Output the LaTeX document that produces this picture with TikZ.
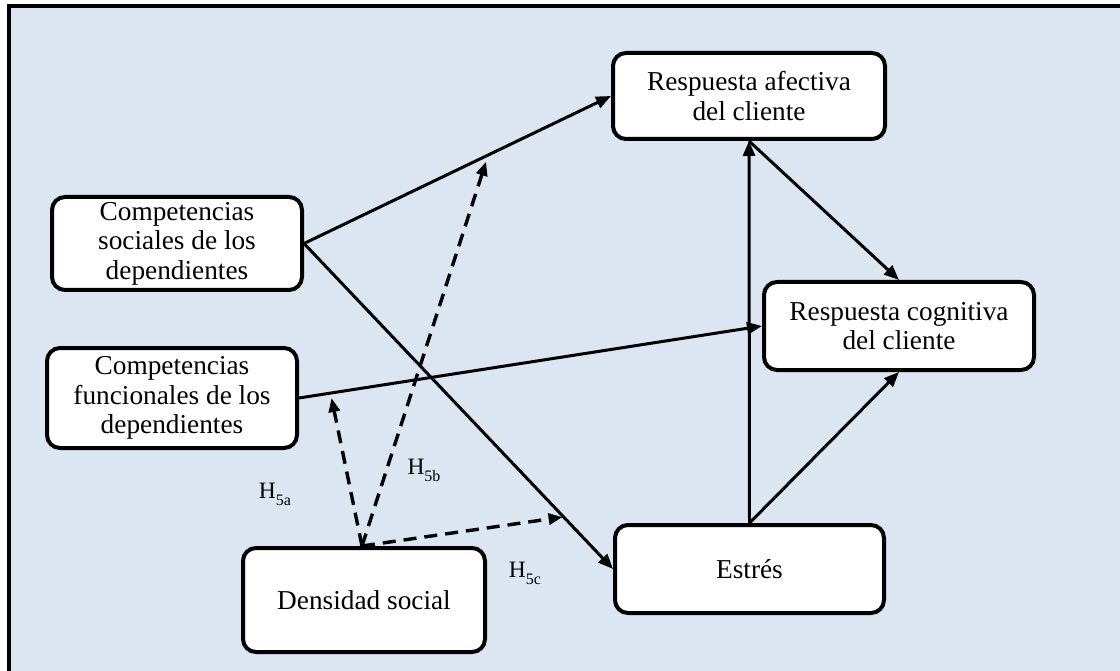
\documentclass[tikz,border=0pt]{standalone}
\usepackage{fontspec}
\setmainfont{Liberation Serif}
\usetikzlibrary{arrows.meta}
\definecolor{panelblue}{HTML}{DCE6F2}
\begin{document}
\begin{tikzpicture}[x=1pt,y=-1pt,
  box/.style={draw, line width=4pt, rounded corners=13pt, fill=white,
    align=center, inner sep=0pt, font=\fontsize{27.3}{29.5}\selectfont},
  link/.style={line width=3pt, -{Triangle[length=15pt,width=12pt]}},
  modlink/.style={line width=3.4pt, dash pattern=on 13pt off 8pt,
    -{Triangle[length=14pt,width=11pt]}},
  hyp/.style={font=\fontsize{23.5}{23.5}\selectfont, inner sep=0pt}]
\useasboundingbox (0,0) rectangle (1120,671);
% panel
\fill[white] (0,0) rectangle (1120,671);
\fill[panelblue] (9,6) rectangle (1120,671);
\draw[line width=4pt] (9,671) -- (9,6) -- (1120,6);

% constructs
\node[box, minimum width=272pt, minimum height=86pt] (afe) at (749,96)
  {Respuesta afectiva\\del cliente};
\node[box, minimum width=270pt, minimum height=88pt] (cog) at (899,326)
  {Respuesta cognitiva\\del cliente};
\node[box, minimum width=250pt, minimum height=93pt] (soc) at (177,243.5)
  {Competencias\\sociales de los\\dependientes};
\node[box, minimum width=250pt, minimum height=100pt] (fun) at (172,398)
  {Competencias\\funcionales de los\\dependientes};
\node[box, minimum width=269pt, minimum height=88pt] (est) at (749.5,569)
  {Estrés};
\node[box, minimum width=242pt, minimum height=104pt] (den) at (364,600)
  {Densidad social};

% direct effects
\draw[link] (soc.east) -- (afe.west);
\draw[link] (soc.east) -- (est.west)
  coordinate[pos=0.84] (onSE);
\draw[link] (fun.east) -- (cog.west);
\draw[link] (est.north) -- (afe.south);
\draw[link] (afe.south) -- (cog.north);
\draw[link] (est.north) -- (cog.south);

% points on the moderated paths
\path (soc.east) -- (afe.west) coordinate[pos=0.6] (onSA);
\path (fun.east) -- (cog.west) coordinate[pos=0.068] (onFC);

% moderation by social density
\coordinate (denTop) at ([xshift=-2pt]den.north);
\draw[modlink, shorten >=5pt] (denTop) -- (onFC);
\draw[modlink, shorten >=7pt] (denTop) -- (onSA);
\draw[modlink, shorten >=1pt] (denTop) -- (onSE);

% hypothesis labels
\node[hyp] (h5a) at (275,494) {H\raisebox{-0.3em}{\fontsize{16}{16}\selectfont 5a}};
\node[hyp] (h5b) at (424,470) {H\raisebox{-0.3em}{\fontsize{16}{16}\selectfont 5b}};
\node[hyp] (h5c) at (525,573) {H\raisebox{-0.3em}{\fontsize{16}{16}\selectfont 5c}};
\end{tikzpicture}
\end{document}
